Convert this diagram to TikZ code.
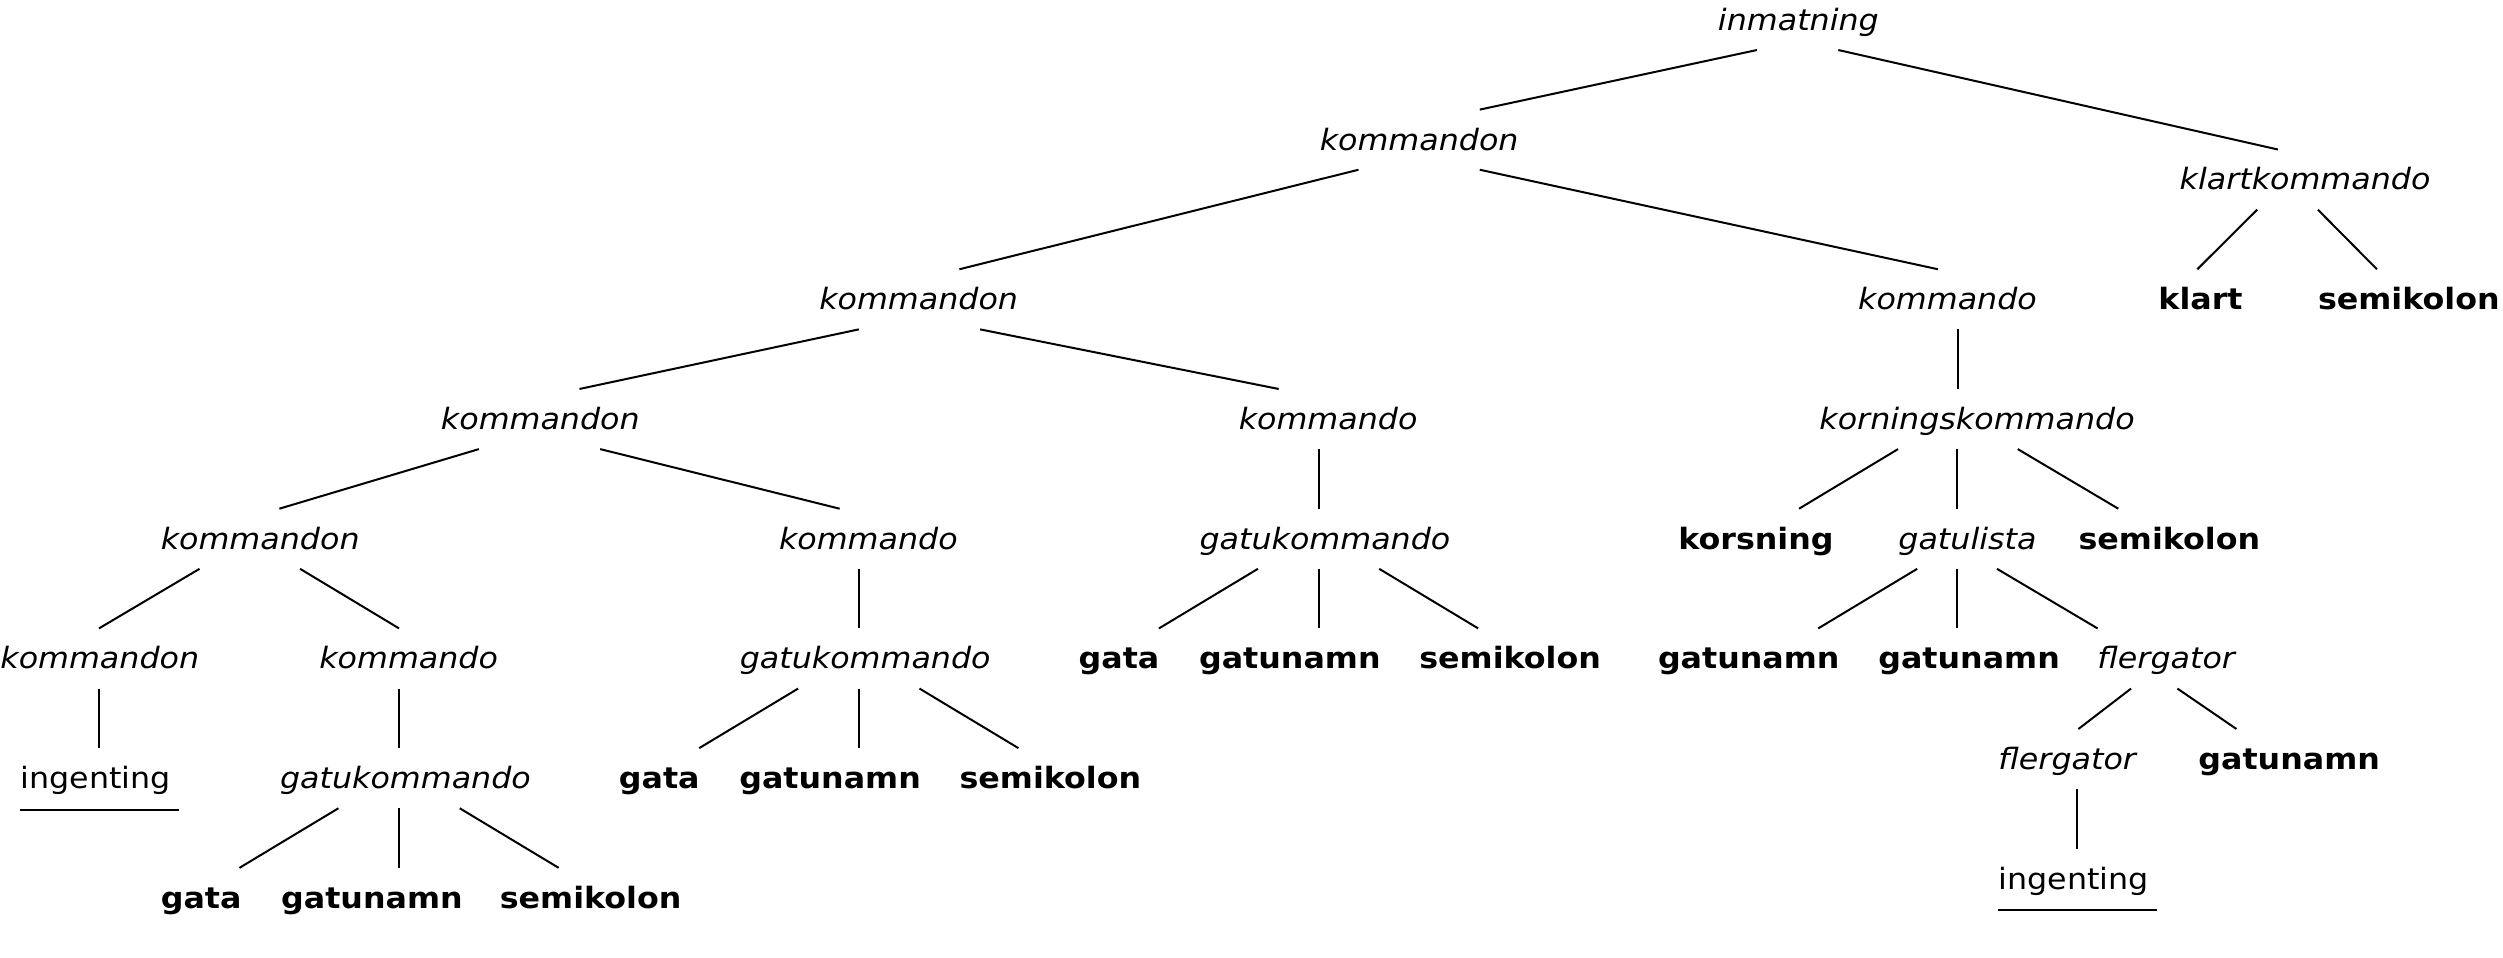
\documentclass[tikz,border=0pt]{standalone}
\usepackage{fontspec}
\setmainfont{DejaVu Sans}[FakeStretch=1.08]
\usetikzlibrary{calc}

\begin{document}
\begin{tikzpicture}[
    x=0.6pt, y=-0.6pt,
    word/.style={inner sep=0pt, anchor=base, text height=15pt, text depth=7.2pt, font=\fontsize{11.04pt}{13pt}\selectfont},
    nt/.style={word, font=\fontsize{11.04pt}{13pt}\selectfont\itshape},
    tk/.style={word, font=\fontsize{11.04pt}{13pt}\selectfont\bfseries},
    link/.style={line width=0.75pt}
]
\fill[white] (0,0) rectangle (1568,600);
\useasboundingbox (0,0) rectangle (1568,600);

% level 0 and 1
\node[nt] (in0) at (1126.6, 19) {inmatning};
\node[nt] (kn1) at (889, 94) {kommandon};
\node[nt] (klk) at (1444, 119) {klartkommando};

% level 2
\node[nt] (kn2) at (575.5, 194) {kommandon};
\node[nt] (ko2) at (1220, 194) {kommando};
\node[tk] (kla) at (1378.5, 194) {klart};
\node[tk] (sm2) at (1509, 194) {semikolon};

% level 3
\node[nt] (kn3) at (338.5, 269) {kommandon};
\node[nt] (ko3) at (832, 269) {kommando};
\node[nt] (krk) at (1238.5, 269) {korningskommando};

% level 4
\node[nt] (kn4) at (163, 344) {kommandon};
\node[nt] (ko4) at (544, 344) {kommando};
\node[nt] (gk4) at (830, 344) {gatukommando};
\node[tk] (kor) at (1100, 344) {korsning};
\node[nt] (gl4) at (1232.5, 344) {gatulista};
\node[tk] (sm4) at (1359, 344) {semikolon};

% level 5
\node[nt] (kn5) at (62.5, 419) {kommandon};
\node[nt] (ko5) at (256, 419) {kommando};
\node[nt] (gk5) at (542, 419) {gatukommando};
\node[tk] (ga5) at (701, 419) {gata};
\node[tk] (gn5) at (808, 419) {gatunamn};
\node[tk] (sm5) at (946, 419) {semikolon};
\node[tk] (gn5b) at (1095.5, 419) {gatunamn};
\node[tk] (gn5c) at (1233.5, 419) {gatunamn};
\node[nt] (fg5) at (1357, 419) {flergator};

% level 6
\node[word] (ing6) at (60, 494) {ingenting};
\node[nt] (gk6) at (254, 494) {gatukommando};
\node[tk] (ga6) at (413, 494) {gata};
\node[tk] (gn6) at (520, 494) {gatunamn};
\node[tk] (sm6) at (658, 494) {semikolon};
\node[nt] (fg6) at (1295, 482) {flergator};
\node[tk] (gn6b) at (1434, 482) {gatunamn};

% level 7
\node[word] (ing7) at (1299, 557) {ingenting};
\node[tk] (ga7) at (126, 569) {gata};
\node[tk] (gn7) at (233, 569) {gatunamn};
\node[tk] (sm7) at (370, 569) {semikolon};

% empty productions
\draw[link] ($(ing6.south west)+(0,1)$) -- ($(ing6.south east)+(5,1)$);
\draw[link] ($(ing7.south west)+(0,1)$) -- ($(ing7.south east)+(5,1)$);

% edges
\draw[link] ($(in0.south)+(-26,0)$) -- ($(kn1.north)+(38,0)$);
\draw[link] ($(in0.south)+(25,0)$) -- ($(klk.north)+(-17,0)$);
\draw[link] ($(kn1.south)+(-38,0)$) -- ($(kn2.north)+(25.5,0)$);
\draw[link] ($(kn1.south)+(38,0)$) -- ($(ko2.north)+(-6,0)$);
\draw[link] ($(klk.south)+(-30,0)$) -- ($(kla.north)+(-2,0)$);
\draw[link] ($(klk.south)+(8,0)$) -- ($(sm2.north)+(-20,0)$);
\draw[link] ($(kn2.south)+(-37.5,0)$) -- ($(kn3.north)+(24.5,0)$);
\draw[link] ($(kn2.south)+(38.5,0)$) -- ($(ko3.north)+(-31,0)$);
\draw[link] ($(ko2.south)+(6.5,0)$) -- ($(krk.north)+(-12,0)$);
\draw[link] ($(kn3.south)+(-38.5,0)$) -- ($(kn4.north)+(12,0)$);
\draw[link] ($(kn3.south)+(37.5,0)$) -- ($(ko4.north)+(-18,0)$);
\draw[link] ($(ko3.south)+(-6,0)$) -- ($(gk4.north)+(-4,0)$);
\draw[link] ($(krk.south)+(-49.5,0)$) -- ($(kor.north)+(27,0)$);
\draw[link] ($(krk.south)+(-12.5,0)$) -- ($(gl4.north)+(-6.5,0)$);
\draw[link] ($(krk.south)+(25.5,0)$) -- ($(sm4.north)+(-32,0)$);
\draw[link] ($(kn4.south)+(-38,0)$) -- ($(kn5.north)+(-0.5,0)$);
\draw[link] ($(kn4.south)+(25,0)$) -- ($(ko5.north)+(-6,0)$);
\draw[link] ($(ko4.south)+(-6,0)$) -- ($(gk5.north)+(-4,0)$);
\draw[link] ($(gk4.south)+(-42,0)$) -- ($(ga5.north)+(25,0)$);
\draw[link] ($(gk4.south)+(-4,0)$) -- ($(gn5.north)+(18,0)$);
\draw[link] ($(gk4.south)+(34,0)$) -- ($(sm5.north)+(-20,0)$);
\draw[link] ($(gl4.south)+(-31.5,0)$) -- ($(gn5b.north)+(43.5,0)$);
\draw[link] ($(gl4.south)+(-6.5,0)$) -- ($(gn5c.north)+(-7.5,0)$);
\draw[link] ($(gl4.south)+(18.5,0)$) -- ($(fg5.north)+(-43,0)$);
\draw[link] ($(kn5.south)+(-0.5,0)$) -- ($(ing6.north)+(2,0)$);
\draw[link] ($(ko5.south)+(-6,0)$) -- ($(gk6.north)+(-4,0)$);
\draw[link] ($(gk5.south)+(-42,0)$) -- ($(ga6.north)+(25,0)$);
\draw[link] ($(gk5.south)+(-4,0)$) -- ($(gn6.north)+(18,0)$);
\draw[link] ($(gk5.south)+(34,0)$) -- ($(sm6.north)+(-20,0)$);
\draw[link] ($(fg5.south)+(-22,0)$) -- ($(fg6.north)+(7,0)$);
\draw[link] ($(fg5.south)+(7,0)$) -- ($(gn6b.north)+(-33,0)$);
\draw[link] ($(fg6.south)+(6,0)$) -- ($(ing7.north)+(2,0)$);
\draw[link] ($(gk6.south)+(-42,0)$) -- ($(ga7.north)+(24,0)$);
\draw[link] ($(gk6.south)+(-4,0)$) -- ($(gn7.north)+(17,0)$);
\draw[link] ($(gk6.south)+(34,0)$) -- ($(sm7.north)+(-20,0)$);

\end{tikzpicture}
\end{document}
